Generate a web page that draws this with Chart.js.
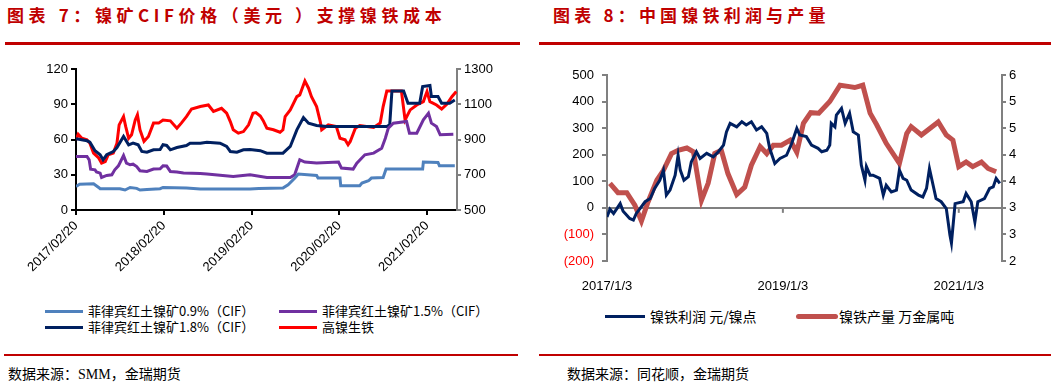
<!DOCTYPE html>
<html lang="zh-CN">
<head>
  <meta charset="UTF-8" />
  <title>镍矿CIF价格与镍铁利润产量</title>
  <script src="https://cdn.jsdelivr.net/npm/chart.js"></script>
  <style>
    body {
      margin: 0;
      width: 1055px;
      height: 389px;
      background: #fff;
      position: relative;
      overflow: hidden;
      font-family: "Noto Sans CJK SC", sans-serif;
    }
    .title {
      position: absolute;
      top: 2px;
      font-size: 17px;
      font-weight: bold;
      color: #C00000;
      letter-spacing: 4.6px;
      white-space: nowrap;
    }
    .rule { position: absolute; height: 3px; background: #C00000; }
    .src {
      position: absolute;
      top: 363px;
      font-size: 14px;
      font-family: "Liberation Serif", "Noto Sans CJK SC", serif;
      white-space: nowrap;
    }
    canvas { position: absolute; }
    .leg { position: absolute; font-size: 13px; white-space: nowrap; line-height: 16px; color: #000; }
    .leg i { position: absolute; left: 0; top: 7px; height: 3px; }
  </style>
</head>
<body>
  <div class="title" style="left:7px">图表 7：镍矿CIF价格（美元 ）支撑镍铁成本</div>
  <div class="rule" style="left:5px; width:515px; top:42px"></div>
  <div class="title" style="left:553px; letter-spacing:4.2px">图表 8：中国镍铁利润与产量</div>
  <div class="rule" style="left:539px; width:512px; top:42px"></div>

  <canvas id="oreChart" width="520" height="240" style="left:0; top:55px"></canvas>
  <canvas id="nickelChart" width="525" height="240" style="left:530px; top:55px"></canvas>

  <div class="leg" style="left:45px; top:303px; padding-left:43px"><i style="width:38px; background:#4F81BD"></i>菲律宾红土镍矿0.9%（CIF）</div>
  <div class="leg" style="left:279px; top:303px; padding-left:43px"><i style="width:38px; background:#7030A0"></i>菲律宾红土镍矿1.5%（CIF）</div>
  <div class="leg" style="left:45px; top:319px; padding-left:43px"><i style="width:38px; background:#002060"></i>菲律宾红土镍矿1.8%（CIF）</div>
  <div class="leg" style="left:279px; top:319px; padding-left:43px"><i style="width:38px; background:#FF0000"></i>高镍生铁</div>

  <div class="leg" style="left:605px; top:308px; padding-left:45px; font-size:14px"><i style="width:40px; background:#002060"></i>镍铁利润 元/镍点</div>
  <div class="leg" style="left:796px; top:308px; padding-left:43px; font-size:14px"><i style="width:42px; height:5px; top:6px; border-radius:3px; background:#C0504D"></i>镍铁产量 万金属吨</div>

  <div class="rule" style="left:4px; width:514px; top:354px; height:2px"></div>
  <div class="rule" style="left:539px; width:512px; top:354px; height:2px"></div>
  <div class="src" style="left:8px">数据来源：SMM，金瑞期货</div>
  <div class="src" style="left:567px">数据来源：同花顺，金瑞期货</div>

  <script>
    // 图表7: x 为自 2017/02/20 起的月数
    const oreTickMonths = [0, 12, 24, 36, 48];
    const oreTickLabels = ["2017/02/20", "2018/02/20", "2019/02/20", "2020/02/20", "2021/02/20"];

    const ore09Months = [0, 0.5, 2.4, 3.1, 3.3, 6.0, 6.7, 7.4, 8.3, 8.75,
      9.7, 11.5, 11.9, 15.1, 17, 23.8, 25.0, 28.3, 29.0, 29.9,
      30.4, 32.9, 33.1, 36.1, 36.2, 38.8, 39.1, 40, 40.4, 42,
      42.4, 47.4, 47.5, 49.5, 49.7, 51.8];
    const ore09 = [20.1, 22, 22.4, 19.2, 18.1, 18.1, 17, 19.2, 18.4, 17,
      17.5, 18.1, 19.2, 18.7, 17.8, 17.8, 18.2, 18.7, 21.5, 27,
      30.6, 29.4, 27.2, 27.2, 20.7, 20.7, 22.9, 24.9, 27.2, 27.7,
      34.8, 34.8, 40.8, 40.5, 37.6, 37.6];

    const ore15Months = [0, 1.5, 1.8, 2.0, 2.6, 2.8, 3.3, 3.5, 4.2, 4.9,
      5.3, 5.8, 6.5, 6.9, 7.4, 7.8, 8.3, 8.75, 9.7, 10.6,
      11.5, 11.9, 12.4, 12.9, 13.8, 14.7, 17, 17.9, 21.5, 23.8,
      26.1, 29.3, 29.9, 30.6, 31.3, 32.9, 35.9, 36.3, 37.9, 38.4,
      39.5, 40.7, 41.8, 42.3, 42.7, 43.4, 45.2, 45.6, 46.6, 47.5,
      48.2, 48.6, 49.3, 49.8, 51.6];
    const ore15 = [45.6, 45.6, 42.7, 34.8, 34.2, 32.3, 31.4, 27.7, 29.4, 30,
      34.2, 37.6, 46.4, 39.9, 38.5, 39, 37, 33.4, 32.8, 34.8,
      35.1, 37.6, 37.4, 32.8, 32.3, 31.4, 31.1, 30.6, 28.6, 30,
      27.7, 27.7, 30, 42.7, 40.8, 39.9, 40.8, 35.7, 34.8, 39.9,
      47, 48.4, 52.6, 61.1, 69.6, 73.9, 75.3, 65.4, 65.4, 76.7,
      82.4, 73.9, 71, 64, 64.5];

    const ore18Months = [0, 1.5, 1.9, 2.6, 3.3, 3.7, 4.2, 5.1, 5.6, 6.5,
      7.2, 7.8, 8.5, 9.0, 9.7, 10.6, 11.5, 11.9, 12.4, 12.9,
      13.8, 15.1, 15.6, 17, 17.9, 19.7, 20.6, 21.1, 22.0, 22.9,
      23.8, 25.2, 26.1, 28.3, 29.3, 30.2, 31.1, 31.8, 32.9, 34.3,
      42.5, 42.9, 43.2, 44.8, 45.4, 47.0, 47.4, 48.4, 48.6, 49.5,
      50.0, 51.1, 51.8];
    const ore18 = [60.6, 58.9, 57.7, 50.4, 47, 42.7, 47, 49.8, 53.2, 62.6,
      55.5, 56.9, 55.5, 49.8, 49.2, 51.2, 51.5, 55.5, 54.9, 51.2,
      53.2, 54.9, 56.9, 56.9, 57.7, 56.9, 54.1, 49.8, 49.2, 51.2,
      51.5, 50.5, 48.4, 48.4, 54.1, 68.2, 78.7, 73.9, 71.9, 71,
      71, 72.5, 101.3, 101.3, 90.9, 90.9, 105, 105.9, 96.5, 96.5,
      90.9, 90.9, 93.7];

    const pigMonths = [0, 0.3, 0.8, 1.5, 1.9, 2.4, 3.1, 3.5, 4.0, 4.4,
      5.1, 5.6, 5.9, 6.5, 6.8, 7.2, 7.6, 8.1, 8.4, 8.75,
      9.3, 9.9, 10.6, 11.3, 11.9, 12.9, 13.8, 14.4, 15.1, 15.8,
      17, 18.1, 18.8, 19.9, 20.6, 21.1, 21.5, 22.2, 22.9, 23.6,
      24.2, 24.6, 25.2, 25.6, 26.1, 27, 27.9, 28.3, 28.6, 29.3,
      30.2, 30.6, 31.3, 31.8, 32.2, 32.9, 33.4, 33.6, 34.5, 35.6,
      36.1, 36.8, 37.2, 37.5, 38.2, 38.8, 40.7, 41.6, 42, 42.5,
      44.5, 45, 45.7, 46.6, 47.5, 48, 48.4, 49.3, 50, 50.7,
      51.4, 52.0];
    const pigPrice = [898, 930, 907, 898, 879, 823, 795, 766, 775, 813,
      823, 879, 983, 1030, 973, 907, 927, 1011, 1040, 955,
      889, 917, 993, 993, 1011, 1006, 964, 993, 1030, 1073,
      1087, 1096, 1059, 1077, 1049, 1002, 955, 936, 945, 983,
      1049, 1053, 1033, 1007, 964, 955, 941, 955, 1030, 1068,
      1143, 1153, 1232, 1191, 1143, 1087, 1002, 955, 983, 973,
      907, 898, 870, 889, 964, 979, 968, 993, 1087, 1175,
      1175, 1011, 1068, 1096, 1115, 1172, 1115, 1096, 1073, 1100,
      1143, 1172];

    // 图表8: x 为自 2017/1/3 起的月数
    const niTickMonths = [0, 24, 48];
    const niTickLabels = ["2017/1/3", "2019/1/3", "2021/1/3"];

    const profitMonths = [0, 0.4, 0.9, 1.3, 1.8, 2.2, 2.7, 3.1, 3.6, 4.0,
      4.5, 5.2, 5.9, 6.5, 7.2, 7.7, 8.1, 8.6, 9.3, 9.7,
      10.0, 10.5, 11.1, 11.5, 12.2, 12.7, 13.6, 14.5, 15.2, 15.9,
      16.3, 16.8, 17.7, 18.4, 19.0, 19.7, 20.4, 21.1, 21.8, 22.2,
      22.9, 23.6, 24.5, 25.2, 25.9, 26.3, 27.2, 27.9, 28.8, 29.3,
      30.0, 30.4, 30.6, 31.1, 31.3, 32.0, 32.5, 33.1, 33.6, 34.3,
      34.7, 35.2, 35.4, 35.9, 36.3, 37.2, 37.7, 38.1, 38.8, 39.5,
      39.9, 40.4, 40.9, 41.5, 42.5, 43.1, 43.6, 44.0, 44.5, 44.9,
      45.6, 46.3, 46.8, 47.0, 47.5, 48.6, 49.0, 49.7, 50.2, 50.6,
      51.5, 52.2, 52.7, 53.1, 53.6];
    const profit = [-34, -5, -21, -5, 16, -13, -28, -40, -46, -21,
      -3, 23, 35, 73, 104, 142, 48, 67, 123, 198,
      142, 104, 117, 173, 211, 186, 205, 192, 211, 236,
      286, 318, 305, 324, 312, 324, 293, 305, 280, 224,
      167, 186, 198, 242, 299, 274, 268, 236, 224, 211,
      217, 236, 318, 305, 349, 374, 318, 356, 286, 274,
      161, 104, 155, 123, 123, 111, 48, 85, 60, 67,
      142, 111, 104, 67, 48, 41, 73, 148, 85, 35,
      23, -3, -103, -132, 16, 23, 54, 23, -53, 23,
      35, 73, 79, 111, 92];

    const outputMonths = [0.4, 1.5, 2.7, 3.8, 4.7, 5.6, 6.8, 7.7, 8.8, 9.7,
      10.9, 11.8, 12.9, 13.8, 14.7, 15.6, 16.5, 17.7, 18.8, 19.7,
      20.9, 21.8, 22.7, 23.8, 25.0, 25.9, 26.8, 27.8, 28.9, 30.4,
      31.8, 33.1, 33.8, 34.9, 35.9, 36.8, 38.1, 39.9, 40.9, 41.5,
      42.9, 45.2, 46.3, 47.2, 48.0, 49.0, 49.9, 51.1, 52.0, 53.1];
    const output = [3.67, 3.47, 3.47, 3.2, 2.86, 3.27, 3.74, 3.95, 4.31, 4.38,
      4.43, 4.35, 3.31, 3.67, 4.31, 4.38, 3.88, 3.43, 3.59, 4.06,
      4.46, 4.31, 4.49, 4.49, 4.6, 4.34, 4.96, 5.19, 5.18, 5.43,
      5.78, 5.75, 5.73, 5.78, 5.18, 4.93, 4.53, 4.10, 4.74, 4.89,
      4.71, 4.99, 4.71, 4.6, 4.03, 4.13, 4.03, 4.13, 3.99, 3.92];

    const toPoints = (xs, ys) => xs.map((x, i) => ({ x: x, y: ys[i] }));
    const tickFont = { family: "Liberation Sans, Arial, sans-serif", size: 13 };

    function line(label, xs, ys, color, width, axis) {
      return {
        label: label,
        data: toPoints(xs, ys),
        borderColor: color,
        backgroundColor: color,
        borderWidth: width,
        pointRadius: 0,
        tension: 0,
        yAxisID: axis
      };
    }

    new Chart(document.getElementById("oreChart"), {
      type: "line",
      data: {
        datasets: [
          line("菲律宾红土镍矿0.9%（CIF）", ore09Months, ore09, "#4F81BD", 3, "y"),
          line("菲律宾红土镍矿1.5%（CIF）", ore15Months, ore15, "#7030A0", 3, "y"),
          line("菲律宾红土镍矿1.8%（CIF）", ore18Months, ore18, "#002060", 3, "y"),
          line("高镍生铁", pigMonths, pigPrice, "#FF0000", 3, "y2")
        ]
      },
      options: {
        responsive: false,
        animation: false,
        layout: { padding: { top: 14 } },
        plugins: { legend: { display: false }, tooltip: { enabled: false } },
        scales: {
          x: {
            type: "linear",
            min: 0,
            max: 52.1,
            afterBuildTicks: s => { s.ticks = oreTickMonths.map(v => ({ value: v })); },
            afterFit: s => { s.height = 85; },
            ticks: {
              autoSkip: false,
              minRotation: 45,
              maxRotation: 45,
              color: "#000",
              font: tickFont,
              callback: v => oreTickLabels[oreTickMonths.indexOf(v)]
            },
            grid: { drawOnChartArea: false, color: "#000", tickLength: 5, lineWidth: 2 },
            border: { color: "#000", width: 2 }
          },
          y: {
            position: "left",
            min: 0,
            max: 120,
            afterFit: s => { s.width = 76; },
            ticks: { stepSize: 30, color: "#000", font: tickFont },
            grid: { drawOnChartArea: false, color: "#000", tickLength: 5, lineWidth: 2 },
            border: { color: "#000", width: 2 }
          },
          y2: {
            position: "right",
            min: 500,
            max: 1300,
            afterFit: s => { s.width = 63; },
            ticks: { stepSize: 200, color: "#000", font: tickFont, callback: v => String(v) },
            grid: { drawOnChartArea: false, color: "#808080", tickLength: 4, lineWidth: 2 },
            border: { color: "#808080", width: 2 }
          }
        }
      }
    });

    // small tick marks on the zero line of chart 8
    const zeroTicks = {
      id: "zeroTicks",
      afterDatasetsDraw(chart) {
        const c = chart.ctx, xs = chart.scales.x, y0 = chart.scales.y.getPixelForValue(0);
        c.save();
        c.strokeStyle = "#808080";
        c.lineWidth = 2;
        niTickMonths.slice(1).forEach(m => {
          const px = xs.getPixelForValue(m);
          c.beginPath();
          c.moveTo(px, y0);
          c.lineTo(px, y0 + 5);
          c.stroke();
        });
        c.restore();
      }
    };

    new Chart(document.getElementById("nickelChart"), {
      type: "line",
      data: {
        datasets: [
          line("镍铁利润 元/镍点", profitMonths, profit, "#002060", 3, "y"),
          line("镍铁产量 万金属吨", outputMonths, output, "#C0504D", 5, "y2")
        ]
      },
      plugins: [zeroTicks],
      options: {
        responsive: false,
        animation: false,
        layout: { padding: { top: 20 } },
        plugins: { legend: { display: false }, tooltip: { enabled: false } },
        scales: {
          x: {
            type: "linear",
            min: 0,
            max: 53.9,
            afterBuildTicks: s => { s.ticks = niTickMonths.map(v => ({ value: v })); },
            afterFit: s => { s.height = 34; },
            ticks: {
              autoSkip: false,
              maxRotation: 0,
              padding: 10,
              color: "#000",
              font: tickFont,
              callback: v => niTickLabels[niTickMonths.indexOf(v)]
            },
            grid: { display: false },
            border: { display: false }
          },
          y: {
            position: "left",
            min: -200,
            max: 500,
            afterFit: s => { s.width = 77; },
            ticks: {
              stepSize: 100,
              padding: 8,
              font: tickFont,
              color: c => (c.tick && c.tick.value < 0 ? "#FF0000" : "#000"),
              callback: v => (v < 0 ? "(" + (-v) + ")" : v)
            },
            grid: {
              color: c => (c.tick && c.tick.value === 0 ? "#808080" : "rgba(0,0,0,0)"),
              tickColor: "#808080",
              tickLength: 5,
              lineWidth: 2
            },
            border: { color: "#808080", width: 2 }
          },
          y2: {
            position: "right",
            min: 2,
            max: 6,
            afterFit: s => { s.width = 53; },
            afterBuildTicks: s => {
              const t = [];
              for (let k = 0; k <= 7; k++) t.push({ value: 2 + k * 4 / 7 });
              s.ticks = t;
            },
            ticks: { color: "#000", font: tickFont, callback: v => Math.round(v) },
            grid: { drawOnChartArea: false, color: "#808080", tickLength: 4, lineWidth: 2 },
            border: { color: "#808080", width: 2 }
          }
        }
      }
    });
  </script>
</body>
</html>
